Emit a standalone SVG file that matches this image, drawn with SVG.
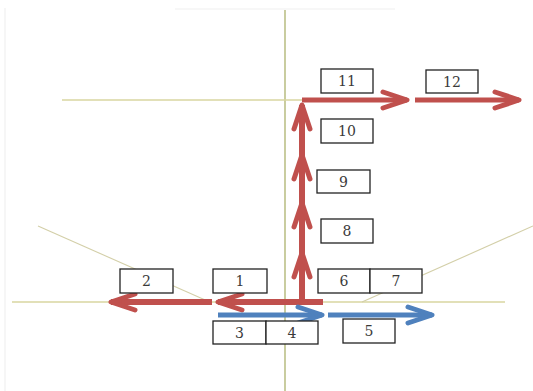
<svg xmlns="http://www.w3.org/2000/svg" width="533" height="391" viewBox="0 0 533 391">
<style>
.guide{stroke:#d9d6a0;stroke-width:1.4;fill:none}
.diag{stroke:#d3cfa8;stroke-width:1.1;fill:none}
.red{stroke:#c0504d;stroke-width:6;fill:none}
.blue{stroke:#4f81bd;stroke-width:5;fill:none}
.box rect{fill:#fff;stroke:#222;stroke-width:1.3}
.box text{font-family:"DejaVu Serif","Liberation Serif",serif;font-size:14px;fill:#3a3a3a;text-anchor:middle}
</style>
<defs>
<marker id="hr" viewBox="0 0 32 22" refX="29" refY="11" markerWidth="32" markerHeight="22" markerUnits="userSpaceOnUse" orient="auto">
<path d="M5 3 L29 11 L5 19" fill="none" stroke="#c0504d" stroke-width="5" stroke-linecap="round" stroke-linejoin="round"/>
</marker>
<marker id="hb" viewBox="0 0 32 22" refX="29" refY="11" markerWidth="32" markerHeight="22" markerUnits="userSpaceOnUse" orient="auto">
<path d="M5 3 L29 11 L5 19" fill="none" stroke="#4f81bd" stroke-width="5" stroke-linecap="round" stroke-linejoin="round"/>
</marker>
</defs>
<rect width="533" height="391" fill="#fff"/>
<g id="guides">
<line class="guide" x1="5" y1="8" x2="5" y2="391" style="stroke:#f2f2f2"/>
<line class="guide" x1="175" y1="9" x2="395" y2="9" style="stroke:#f4f4f4"/>
<line class="guide" x1="285" y1="10" x2="285" y2="391" style="stroke:#bcc088;stroke-width:1.6"/>
<line class="guide" x1="12" y1="302" x2="505" y2="302"/>
<line class="guide" x1="62" y1="100" x2="302" y2="100"/>
<line class="diag" x1="38" y1="226" x2="212" y2="303"/>
<line class="diag" x1="362" y1="302" x2="533" y2="226"/>
</g>
<g id="connectors">
<line class="red" x1="323" y1="302" x2="218" y2="302" marker-end="url(#hr)"/>
<line class="red" x1="212" y1="302" x2="111" y2="302" marker-end="url(#hr)"/>
<line class="red" x1="302" y1="302" x2="302" y2="253" marker-end="url(#hr)"/>
<line class="red" x1="302" y1="253" x2="302" y2="203" marker-end="url(#hr)"/>
<line class="red" x1="302" y1="203" x2="302" y2="155" marker-end="url(#hr)"/>
<line class="red" x1="302" y1="155" x2="302" y2="105" marker-end="url(#hr)"/>
<line class="red" x1="302" y1="100" x2="407" y2="100" marker-end="url(#hr)" style="stroke-width:5"/>
<line class="red" x1="415" y1="100" x2="519" y2="100" marker-end="url(#hr)" style="stroke-width:5"/>
<line class="blue" x1="218" y1="315" x2="322" y2="315" marker-end="url(#hb)"/>
<line class="blue" x1="328" y1="315" x2="432" y2="315" marker-end="url(#hb)"/>
</g>
<g id="n1" class="box"><rect x="213" y="269" width="54" height="24"/><text x="240" y="286">1</text></g>
<g id="n2" class="box"><rect x="120" y="269" width="53" height="24"/><text x="146.5" y="286">2</text></g>
<g id="n3" class="box"><rect x="213" y="321" width="53" height="23"/><text x="239.5" y="338">3</text></g>
<g id="n4" class="box"><rect x="266" y="321" width="52" height="23"/><text x="292" y="338">4</text></g>
<g id="n5" class="box"><rect x="343" y="319" width="52" height="24"/><text x="369" y="336">5</text></g>
<g id="n6" class="box"><rect x="318" y="269" width="52" height="24"/><text x="344" y="286">6</text></g>
<g id="n7" class="box"><rect x="370" y="269" width="52" height="24"/><text x="396" y="286">7</text></g>
<g id="n8" class="box"><rect x="321" y="219" width="52" height="24"/><text x="347" y="236">8</text></g>
<g id="n9" class="box"><rect x="317" y="170" width="53" height="23"/><text x="343.5" y="187">9</text></g>
<g id="n10" class="box"><rect x="321" y="119" width="52" height="24"/><text x="347" y="136">10</text></g>
<g id="n11" class="box"><rect x="321" y="69" width="52" height="24"/><text x="347" y="86">11</text></g>
<g id="n12" class="box"><rect x="426" y="70" width="52" height="23"/><text x="452" y="87">12</text></g>
</svg>
